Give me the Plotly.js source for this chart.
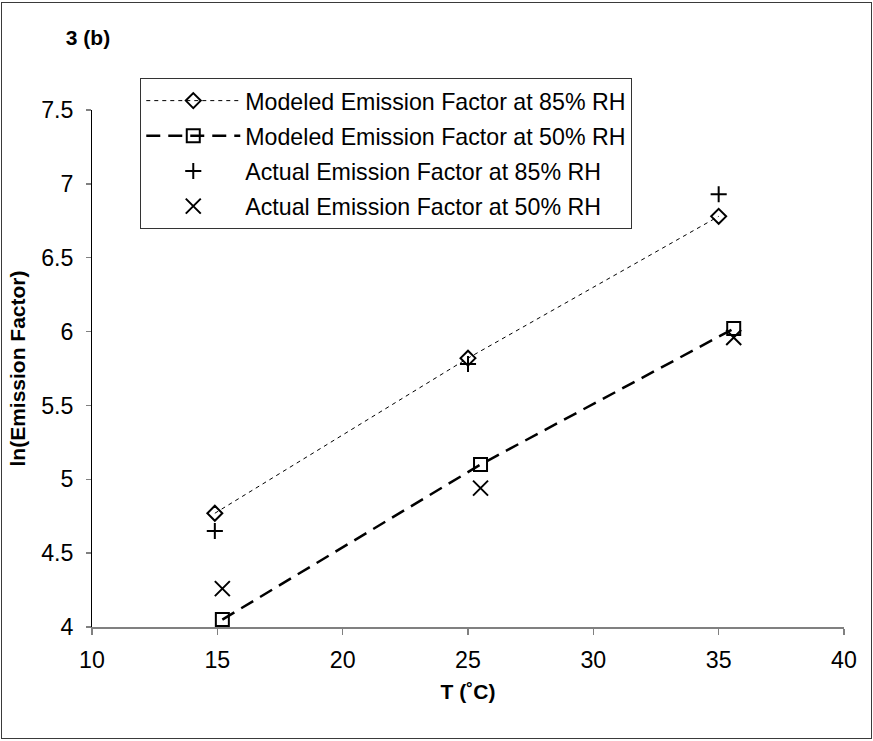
<!DOCTYPE html>
<html>
<head>
<meta charset="utf-8">
<script src="https://cdn.plot.ly/plotly-3.0.1.min.js"></script>
<style>
  html, body { margin: 0; padding: 0; background: #fff; }
  #wrap { position: relative; width: 873px; height: 741px; }
  #chart { position: absolute; left: 0; top: 0; width: 873px; height: 741px; }
  #frame { position: absolute; left: 1px; top: 2px; width: 869px; height: 735px; border: 1.5px solid #3a3a3a; pointer-events: none; }
</style>
</head>
<body>
<div id="wrap"><div id="chart"></div><div id="frame"></div></div>
<script>
// Temperatures (°C)
const temp85 = [14.9, 25.0, 35.0];
const temp50 = [15.2, 25.5, 35.6];
// ln(Emission Factor)
const modeled85 = [4.77, 5.82, 6.78];
const modeled50 = [4.05, 5.10, 6.02];
const actual85 = [4.65, 5.78, 6.93];
const actual50 = [4.26, 4.94, 5.96];
const seriesNames = [
  'Modeled Emission Factor at 85% RH',
  'Modeled Emission Factor at 50% RH',
  'Actual Emission Factor at 85% RH',
  'Actual Emission Factor at 50% RH'
];
const xTicks = [10, 15, 20, 25, 30, 35, 40];
const yTicks = [4, 4.5, 5, 5.5, 6, 6.5, 7, 7.5];

const FONT = 'Liberation Sans, Arial, sans-serif';
const FS = 23.2;

const traces = [
  {
    x: temp85, y: modeled85, name: seriesNames[0], legendgroup: 'g1', type: 'scatter', mode: 'lines+markers',
    line: { color: '#000', width: 1, dash: '4px,4px' },
    marker: { symbol: 'diamond-open', size: 11.5, color: '#000', line: { width: 2, color: '#000' } }
  },
  {
    x: temp50, y: modeled50, name: seriesNames[1], legendgroup: 'g2', type: 'scatter', mode: 'lines+markers',
    line: { color: '#000', width: 2.5, dash: '14px,8px' },
    marker: { symbol: 'square-open', size: 13, color: '#000', line: { width: 2, color: '#000' } }
  },
  {
    x: temp85, y: actual85, name: seriesNames[2], legendgroup: 'g3', type: 'scatter', mode: 'markers',
    marker: { symbol: 'cross-thin', size: 11.5, color: '#000', line: { width: 2, color: '#000' } }
  },
  {
    x: temp50, y: actual50, name: seriesNames[3], legendgroup: 'g4', type: 'scatter', mode: 'markers',
    marker: { symbol: 'x-thin', size: 15, color: '#000', line: { width: 2, color: '#000' } }
  }
];

const layout = {
  width: 873, height: 741,
  paper_bgcolor: '#fff', plot_bgcolor: '#fff',
  margin: { l: 92, r: 28.5, t: 110, b: 113.5 },
  font: { family: FONT, size: FS, color: '#000' },
  title: {
    text: '3 (b)', x: 88 / 873, xanchor: 'center', xref: 'container',
    y: 1 - 38 / 741, yanchor: 'middle', yref: 'container',
    font: { family: FONT, size: 21, weight: 'bold', color: '#000' }
  },
  xaxis: {
    range: [10, 40], tickvals: xTicks, ticktext: xTicks.map(String),
    showgrid: false, zeroline: false,
    showline: true, linecolor: '#808080', linewidth: 1.5,
    ticks: 'outside', ticklen: 6, tickcolor: '#808080', tickwidth: 1.5,
    ticklabelstandoff: 6,
    tickfont: { family: FONT, size: FS, color: '#000' },
    title: { text: 'T (˚C)', font: { family: FONT, size: 21, weight: 'bold', color: '#000' }, standoff: 12 }
  },
  yaxis: {
    range: [4, 7.5], tickvals: yTicks, ticktext: yTicks.map(String),
    showgrid: false, zeroline: false,
    showline: true, linecolor: '#000', linewidth: 1,
    ticks: 'outside', ticklen: 5, tickcolor: '#808080', tickwidth: 1.5,
    ticklabelstandoff: 8,
    tickfont: { family: FONT, size: FS, color: '#000' },
    title: { text: 'ln(Emission Factor)', font: { family: FONT, size: 21, weight: 'bold', color: '#000' }, standoff: 9 }
  },
  showlegend: true,
  legend: {
    x: (140.3 - 92) / 752.5, y: (627.5 - 78) / 517.5, xanchor: 'left', yanchor: 'top',
    bgcolor: '#fff', bordercolor: '#333', borderwidth: 1,
    font: { family: FONT, size: FS, color: '#000' },
    itemwidth: 94, traceorder: 'grouped', tracegroupgap: 2
  }
};

Plotly.newPlot('chart', traces, layout, { staticPlot: true, displayModeBar: false });
</script>
</body>
</html>
